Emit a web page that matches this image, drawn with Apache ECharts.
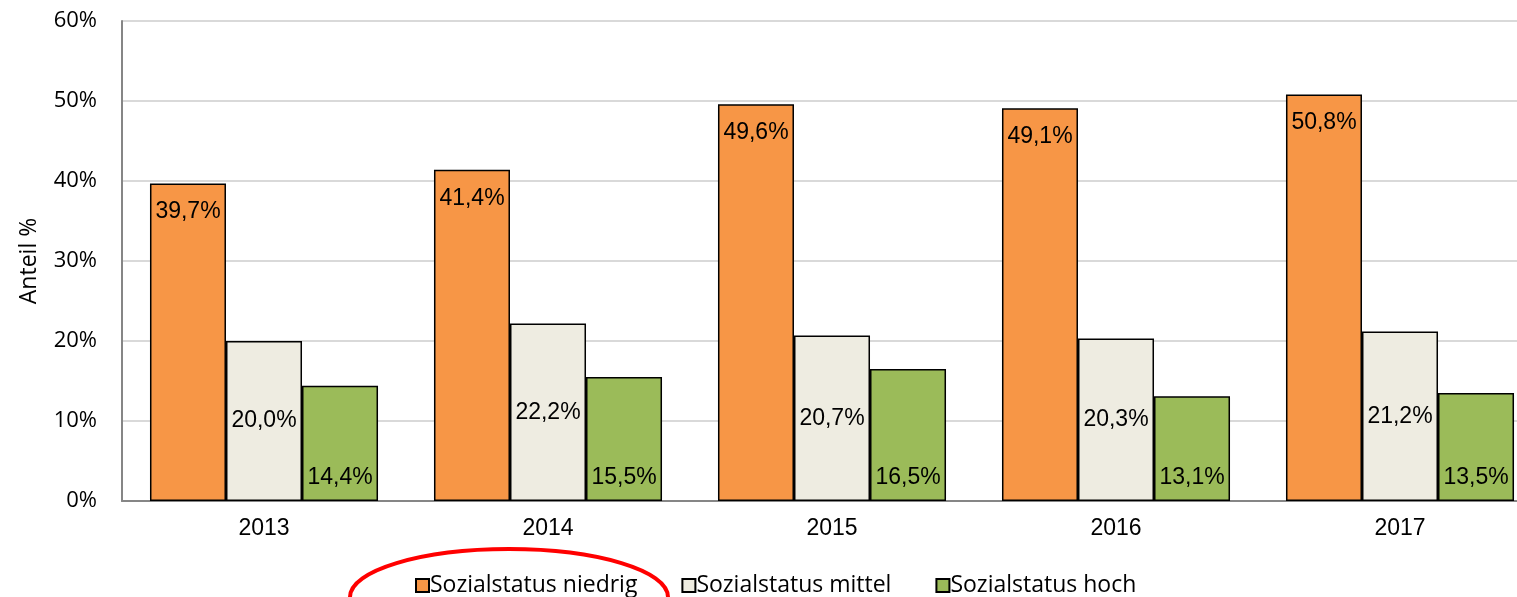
<!DOCTYPE html>
<html><head><meta charset="utf-8">
<script src="https://cdn.jsdelivr.net/npm/echarts@6/dist/echarts.min.js"></script>
<style>html,body{margin:0;padding:0;background:#fff;overflow:hidden;width:1517px;height:597px}#c{width:1542px;height:597px}</style>
</head><body><div id="c"></div>
<script>
var categories = ['2013','2014','2015','2016','2017'];
var seriesNames = ['Sozialstatus niedrig','Sozialstatus mittel','Sozialstatus hoch'];
var niedrig = [39.7, 41.4, 49.6, 49.1, 50.8];
var mittel = [20.0, 22.2, 20.7, 20.3, 21.2];
var hoch = [14.4, 15.5, 16.5, 13.1, 13.5];
var yTicks = [0,10,20,30,40,50,60];

var fmt = function(p){ return p.value.toFixed(1).replace('.', ',') + '%'; };
var labelFont = {fontFamily:'Liberation Sans, Arial, sans-serif', fontSize:23, color:'#000'};
function mk(name, data, color, pos, dist){
  return {name:name, type:'bar', data:data, barGap:0, barCategoryGap:'19.7%',
    itemStyle:{color:color, borderColor:'#000', borderWidth:1.5},
    label:Object.assign({show:true, position:pos, distance:dist, formatter:fmt}, labelFont)};
}
var chart = echarts.init(document.getElementById('c'));
chart.setOption({
  animation:false,
  grid:{left:122, top:21, bottom:96, right:0, containLabel:false},
  legend:{left:410, top:569, itemWidth:13, itemHeight:13, itemGap:44, icon:'rect',
    textStyle:{fontFamily:'Open Sans, sans-serif', fontSize:23, color:'#000', padding:[0,0,0,-4]},
    data:seriesNames},
  xAxis:{type:'category', data:categories,
    axisLine:{lineStyle:{color:'#868686', width:2}}, axisTick:{show:false},
    axisLabel:{fontFamily:'Liberation Sans, Arial, sans-serif', fontSize:23, color:'#000', margin:16}},
  yAxis:{type:'value', min:yTicks[0], max:yTicks[yTicks.length-1], interval:10,
    name:'Anteil %', nameLocation:'middle', nameGap:81, nameRotate:90,
    nameTextStyle:{fontFamily:'Open Sans, sans-serif', fontSize:23, color:'#000'},
    axisLine:{show:true, lineStyle:{color:'#868686', width:2}}, axisTick:{show:false},
    splitLine:{lineStyle:{color:'#d9d9d9', width:2}},
    axisLabel:{fontFamily:'Open Sans, sans-serif', fontSize:22, color:'#000', margin:25,
      formatter:function(v){return v+'%';}}},
  series:[
    mk(seriesNames[0], niedrig, '#F79646', 'insideTop', 17),
    mk(seriesNames[1], mittel, '#EEECE1', 'inside', 0),
    mk(seriesNames[2], hoch, '#9BBB59', 'insideBottom', 12)
  ],
  graphic:[{type:'ellipse', shape:{cx:509, cy:597, rx:159, ry:48},
    style:{fill:'none', stroke:'#ff0000', lineWidth:4}, z:100}]
});
</script></body></html>
